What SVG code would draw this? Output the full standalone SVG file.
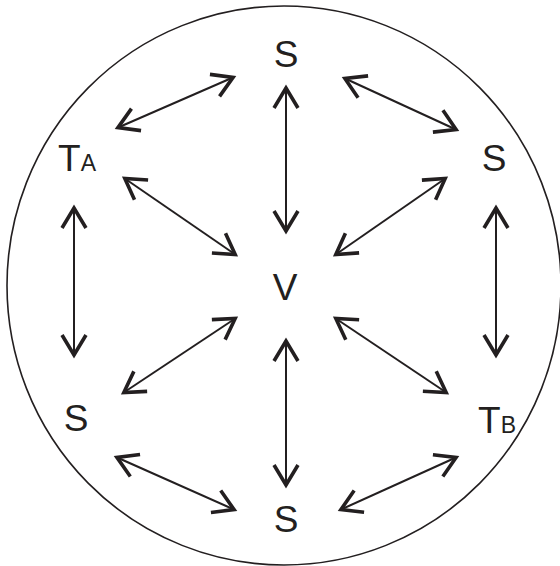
<svg xmlns="http://www.w3.org/2000/svg" width="560" height="566" viewBox="0 0 560 566">
<style>
.lbl{font-family:"Liberation Sans",Arial,sans-serif;font-size:37px;fill:#231f20;text-anchor:middle}
.sub{font-size:23px}
.c{stroke:#231f20;stroke-width:2;fill:none;marker-start:url(#ah);marker-end:url(#ah)}
</style>
<defs>
<marker id="ah" markerUnits="userSpaceOnUse" markerWidth="40" markerHeight="40" refX="0" refY="0" orient="auto-start-reverse" style="overflow:visible">
<path d="M -21,-12 L -1,0 L -21,12" fill="none" stroke="#231f20" stroke-width="3.6" stroke-linejoin="miter"/>
</marker>
</defs>
<ellipse cx="284" cy="285.5" rx="277" ry="279.5" fill="none" stroke="#231f20" stroke-width="1.6"/>
<g id="connectors">
<line class="c" x1="117" y1="128" x2="234" y2="77"/>
<line class="c" x1="344" y1="78" x2="457" y2="130"/>
<line class="c" x1="286" y1="87" x2="286" y2="232"/>
<line class="c" x1="124" y1="178" x2="236" y2="255"/>
<line class="c" x1="446" y1="178" x2="335" y2="255"/>
<line class="c" x1="74" y1="207" x2="74" y2="356"/>
<line class="c" x1="496" y1="207" x2="496" y2="356"/>
<line class="c" x1="236" y1="318" x2="123" y2="393"/>
<line class="c" x1="335" y1="318" x2="447" y2="393"/>
<line class="c" x1="286" y1="340" x2="286" y2="486"/>
<line class="c" x1="116" y1="457" x2="235" y2="510"/>
<line class="c" x1="457" y1="457" x2="340" y2="510"/>
</g>
<g id="s-top"><text class="lbl" x="286" y="67">S</text></g>
<g id="ta"><text class="lbl" x="77" y="171" style="text-anchor:middle"><tspan>T</tspan><tspan class="sub">A</tspan></text></g>
<g id="s-right-top"><text class="lbl" x="494" y="171">S</text></g>
<g id="v"><text class="lbl" x="285" y="300">V</text></g>
<g id="s-left-bottom"><text class="lbl" x="76" y="431">S</text></g>
<g id="tb"><text class="lbl" x="497" y="433"><tspan>T</tspan><tspan class="sub">B</tspan></text></g>
<g id="s-bottom"><text class="lbl" x="286" y="532">S</text></g>
</svg>
